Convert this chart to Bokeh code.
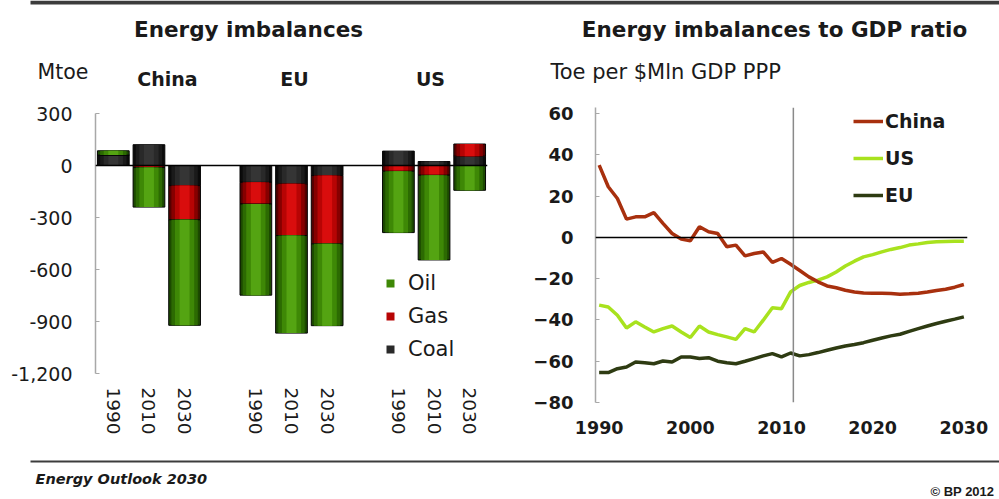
from bokeh.plotting import figure
from bokeh.layouts import column, row
from bokeh.models import (FixedTicker, NumeralTickFormatter, Span, Label,
                          Legend, LegendItem)
from bokeh.embed import file_html
from bokeh.resources import INLINE

FONT = "DejaVu Sans"
INK = "#1a1a1a"

# ---- Energy imbalances by fuel, Mtoe (net exports > 0, net imports < 0)
regions = ["China", "EU", "US"]
bar_years = ["1990", "2010", "2030"]
coal = [60, 120, -116, -97, -106, -58, 83, 23, 54]
gas = [0, -12, -197, -125, -298, -394, -33, -56, 70]
oil = [25, -228, -609, -526, -563, -472, -354, -489, -143]
mtoe_ticks = [-1200, -900, -600, -300, 0, 300]

# ---- Energy imbalances to GDP ratio, toe per $Mln GDP PPP
ratio_years = list(range(1990, 2031))
china_ratio = [35.1, 24.6, 18.9, 8.9, 10.0, 10.0, 12.0, 6.8, 1.9, -0.8,
               -1.6, 5.2, 2.8, 1.9, -4.5, -3.7, -8.9, -7.8, -7.0, -12.1,
               -10.2, -13.0, -16.0, -19.1, -21.5, -23.5, -24.4, -25.6, -26.4, -26.9,
               -27.0, -27.0, -27.2, -27.5, -27.3, -27.0, -26.4, -25.7, -25.1, -24.1,
               -22.8]
us_ratio = [-32.8, -33.7, -37.7, -43.9, -40.9, -43.4, -45.8, -44.2, -42.9, -45.8,
            -48.5, -42.9, -45.8, -47.1, -48.2, -49.4, -44.2, -45.8, -40.1, -34.1,
            -34.5, -26.4, -23.3, -21.8, -20.7, -19.1, -16.7, -13.8, -11.5, -9.4,
            -8.3, -7.0, -5.8, -4.9, -3.7, -3.1, -2.4, -2.1, -1.9, -1.8,
            -1.8]
eu_ratio = [-65.5, -65.5, -63.6, -62.8, -60.4, -60.7, -61.2, -59.9, -60.4, -57.9,
            -57.9, -58.7, -58.3, -60.0, -60.7, -61.2, -60.0, -58.7, -57.4, -56.3,
            -57.9, -56.0, -57.4, -56.8, -55.8, -54.7, -53.6, -52.6, -51.9, -51.0,
            -49.8, -48.7, -47.7, -46.9, -45.5, -44.2, -42.9, -41.7, -40.6, -39.6,
            -38.5]
ratio_ticks = [-80, -60, -40, -20, 0, 20, 40, 60]
year_ticks = [1990, 2000, 2010, 2020, 2030]
outlook_start = 2011.3


def style_axes(p, size, bold):
    p.xgrid.visible = False
    p.ygrid.visible = False
    p.outline_line_color = None
    for ax in p.axis:
        ax.major_label_text_font = FONT
        ax.major_label_text_color = INK
        ax.major_label_text_font_size = size
        ax.major_label_text_font_style = "bold" if bold else "normal"
        ax.minor_tick_line_color = None


def strip(h):
    """A plain drawing band whose data units are pixels (y grows downward)."""
    s = figure(width=999, height=h, x_range=(0, 999), y_range=(h, 0),
               x_axis_type=None, y_axis_type=None, min_border=0,
               output_backend="svg", toolbar_location=None,
               background_fill_color="white", border_fill_color="white")
    s.grid.visible = False
    s.outline_line_color = None
    return s


def text(p, x, y, s, size, style="normal", align="left", font=FONT):
    p.add_layout(Label(x=x, y=y, text=s, text_align=align,
                       text_baseline="middle", text_font=font,
                       text_font_style=style, text_font_size=size,
                       text_color=INK))


# ================================ header =================================
header = strip(95)
header.quad(left=[30], right=[999], top=[0], bottom=[4], fill_color="#3c3c3c",
            line_color=None)
text(header, 248, 29, "Energy imbalances", "21.5px", "bold", "center")
text(header, 774, 29, "Energy imbalances to GDP ratio", "21.5px", "bold", "center")
text(header, 37, 71, "Mtoe", "20.5px")
for nm, cx in zip(regions, [167, 294, 430]):
    text(header, cx, 78, nm, "19px", "bold", "center")
text(header, 550, 71, "Toe per $Mln GDP PPP", "21px")

# =============================== left panel ===============================
# bars sit in groups of three with an empty slot between regions
slots = [r * (len(bar_years) + 1) + k
         for r in range(len(regions)) for k in range(len(bar_years))]
n = len(slots)

p1 = figure(width=520, height=360, x_range=(-0.5, 10.5), y_range=(-1200, 300),
            output_backend="svg", toolbar_location=None,
            min_border_left=95, min_border_right=33,
            min_border_top=18, min_border_bottom=82, frame_align=False,
            background_fill_color="white", border_fill_color="white")
style_axes(p1, "19px", bold=False)

# stack coal nearest the zero line, then gas, then oil; signs stack separately
pos = [0.0] * n
neg = [0.0] * n
stacks = []
for vals in (coal, gas, oil):
    b, t = [], []
    for i, v in enumerate(vals):
        if v >= 0:
            b.append(pos[i]); t.append(pos[i] + v); pos[i] += v
        else:
            b.append(neg[i]); t.append(neg[i] + v); neg[i] += v
    stacks.append((b, t))

# each segment is shaded darker at the sides and lighter in the middle
shades = {
    "Coal": ["#0b0b0b", "#1a1a1a", "#292929", "#353535"],
    "Gas": ["#560000", "#860000", "#b70404", "#d90d0d"],
    "Oil": ["#1c4a00", "#2c6a02", "#3e8806", "#54a412"],
}
widths = [0.89, 0.74, 0.54, 0.28]
legend_src = {}
for name, (b, t) in zip(["Coal", "Gas", "Oil"], stacks):
    for k, (w, c) in enumerate(zip(widths, shades[name])):
        r = p1.vbar(x=slots, bottom=b, top=t, width=w, fill_color=c,
                    line_color="#050505" if k == 0 else None,
                    line_width=1)
        if k == 2:
            legend_src[name] = r

p1.add_layout(Span(location=0, dimension="width", line_color="black",
                   line_width=1.5))

p1.yaxis.ticker = FixedTicker(ticks=mtoe_ticks)
p1.yaxis.formatter = NumeralTickFormatter(format="0,0")
p1.yaxis.axis_line_color = "#a8a8a8"
p1.yaxis.axis_line_width = 1.5
p1.yaxis.major_tick_line_color = "#a8a8a8"
p1.yaxis.major_tick_in = 4
p1.yaxis.major_tick_out = 0
p1.yaxis.major_label_standoff = 23

p1.xaxis.ticker = FixedTicker(ticks=slots)
p1.xaxis.major_label_overrides = {s: bar_years[i % len(bar_years)]
                                  for i, s in enumerate(slots)}
p1.xaxis.major_label_orientation = "vertical"
p1.xaxis.major_label_text_font_size = "18.5px"
p1.xaxis.axis_line_color = None
p1.xaxis.major_tick_line_color = None
p1.xaxis.major_label_standoff = 8

leg1 = Legend(items=[LegendItem(label=nm, renderers=[legend_src[nm]])
                     for nm in ["Oil", "Gas", "Coal"]],
              location=(290, 12), orientation="vertical",
              glyph_width=10, glyph_height=10, label_standoff=13,
              label_text_font=FONT, label_text_font_size="21px",
              label_text_color=INK, spacing=9, padding=0, margin=0,
              border_line_color=None, background_fill_alpha=0)
p1.add_layout(leg1, "center")

# =============================== right panel ==============================
p2 = figure(width=479, height=360, x_range=(1989.6, 2030.4), y_range=(-80, 63),
            output_backend="svg", toolbar_location=None,
            min_border_left=75, min_border_right=32,
            min_border_top=12, min_border_bottom=53, frame_align=False,
            background_fill_color="white", border_fill_color="white")
style_axes(p2, "18px", bold=True)

p2.add_layout(Span(location=outlook_start, dimension="height",
                   line_color="#8a8a8a", line_width=1.5))
p2.add_layout(Span(location=0, dimension="width", line_color="black",
                   line_width=1.5))

r_eu = p2.line(ratio_years, eu_ratio, line_color="#2e3b12", line_width=3.5)
r_us = p2.line(ratio_years, us_ratio, line_color="#a8e21e", line_width=3.5)
r_cn = p2.line(ratio_years, china_ratio, line_color="#a8300e", line_width=3.5)

p2.yaxis.ticker = FixedTicker(ticks=ratio_ticks)
p2.yaxis.axis_line_color = "#a8a8a8"
p2.yaxis.axis_line_width = 1.5
p2.yaxis.major_tick_line_color = "#a8a8a8"
p2.yaxis.major_tick_in = 4
p2.yaxis.major_tick_out = 0
p2.yaxis.major_label_standoff = 22

p2.xaxis.ticker = FixedTicker(ticks=year_ticks)
p2.xaxis.major_label_text_font_size = "17.5px"
p2.xaxis.axis_line_color = None
p2.xaxis.major_tick_line_color = None
p2.xaxis.major_label_standoff = 12

leg2 = Legend(items=[LegendItem(label="China", renderers=[r_cn]),
                     LegendItem(label="US", renderers=[r_us]),
                     LegendItem(label="EU", renderers=[r_eu])],
              location=(258, 196), orientation="vertical",
              glyph_width=30, glyph_height=20, label_standoff=2,
              label_text_font=FONT, label_text_font_size="19px",
              label_text_font_style="bold", label_text_color=INK,
              spacing=15, padding=0, margin=0,
              border_line_color=None, background_fill_alpha=0)
p2.add_layout(leg2, "center")

# ================================ footer =================================
footer = strip(44)
footer.quad(left=[30], right=[999], top=[5], bottom=[7], fill_color="#3c3c3c",
            line_color=None)
text(footer, 35, 23, "Energy Outlook 2030", "14.5px", "bold italic")
text(footer, 930, 36, "\u00a9 BP 2012", "13px", "bold", font="Liberation Sans")

layout = column(header, row(p1, p2, spacing=0), footer, spacing=0)

with open("out.html", "w") as f:
    f.write(file_html(layout, INLINE))
